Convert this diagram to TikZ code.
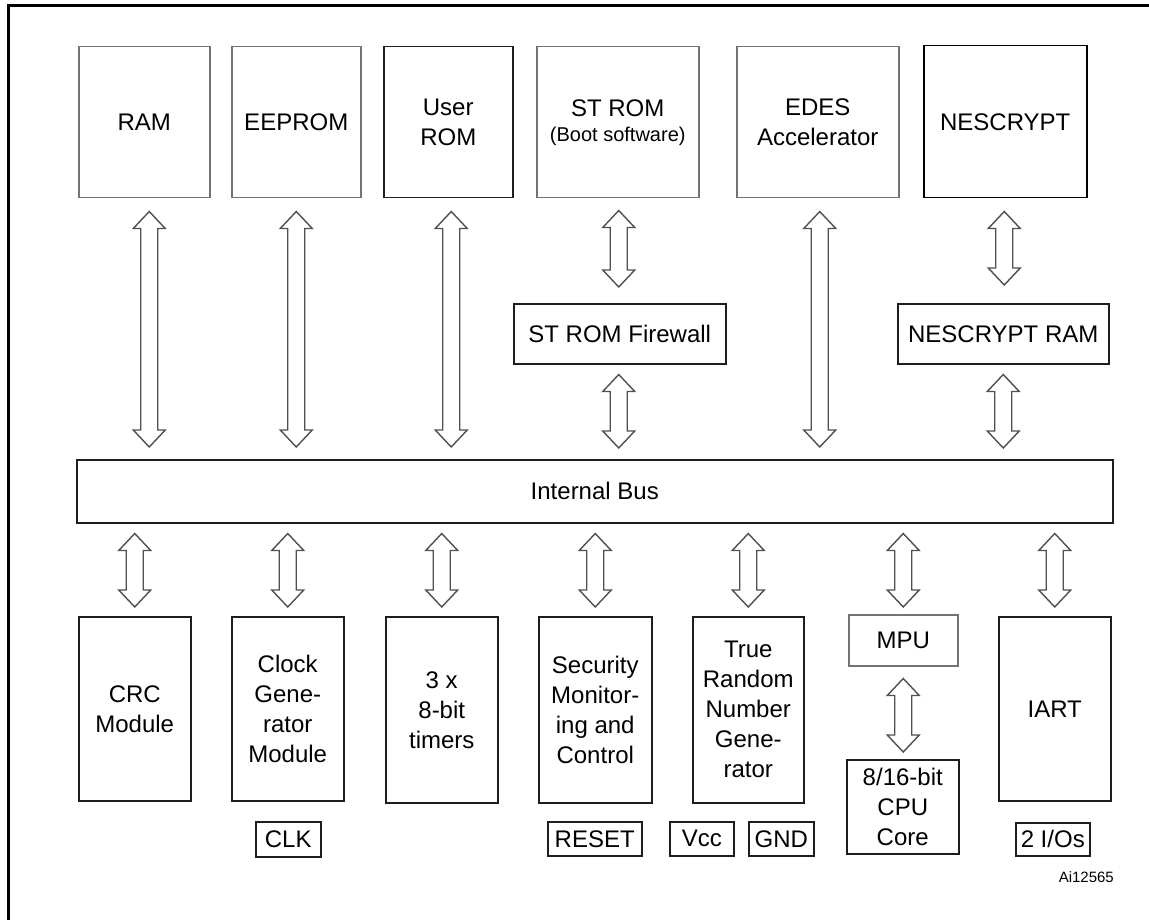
\documentclass[tikz,border=0pt]{standalone}
\usepackage{fontspec}
\setmainfont{Liberation Sans}
\usetikzlibrary{calc}
\definecolor{bgray}{RGB}{115,115,115}
\definecolor{agray}{RGB}{80,80,80}
\definecolor{kline}{RGB}{30,30,30}
\tikzset{
  blk/.style={draw=kline, line width=1.5pt, rectangle, anchor=north west, align=center, inner sep=0pt, font=\fontsize{24}{30}\selectfont},
  gblk/.style={blk, draw=bgray},
  arrstyle/.style={draw=agray, line width=1.4pt, fill=white, line join=miter},
}
\newcommand\dblarr[2]{\draw[arrstyle] let \p1=#1, \p2=#2 in (\x1,\y1) -- (\x1+16pt,\y1-17pt) -- (\x1+8.5pt,\y1-17pt) -- (\x1+8.5pt,\y2+17pt) -- (\x1+16pt,\y2+17pt) -- (\x1,\y2) -- (\x1-16pt,\y2+17pt) -- (\x1-8.5pt,\y2+17pt) -- (\x1-8.5pt,\y1-17pt) -- (\x1-16pt,\y1-17pt) -- cycle;}
\begin{document}
\begin{tikzpicture}[x=1pt,y=-1pt]
\useasboundingbox (0,0) rectangle (1149,920);
\fill[white] (0,0) rectangle (1149,920);
\draw[line width=3pt] (8,940) -- (8,5.5) -- (1170,5.5);

% top row
\node[gblk, minimum width=131pt, minimum height=151pt] (ram) at (78,46) {RAM};
\node[gblk, minimum width=129pt, minimum height=151pt] (eeprom) at (231,46) {EEPROM};
\node[blk, minimum width=129pt, minimum height=151pt] (userrom) at (383,46) {User\\ROM};
\node[gblk, minimum width=162pt, minimum height=151pt] (strom) at (536,46) {ST ROM\\[-5pt]{\fontsize{20}{24}\selectfont (Boot software)}};
\node[gblk, minimum width=162pt, minimum height=151pt] (edes) at (736,46) {EDES\\Accelerator};
\node[blk, draw=black, minimum width=163pt, minimum height=152pt] (nes) at (923,45) {NESCRYPT};

% middle
\node[blk, minimum width=212pt, minimum height=60pt] (firewall) at (513,303) {ST ROM Firewall};
\node[blk, minimum width=211pt, minimum height=60pt] (nesram) at (897,303) {NESCRYPT RAM};
\node[blk, minimum width=1036pt, minimum height=63pt] (bus) at (76,459) {Internal Bus};

% bottom row
\node[blk, minimum width=112pt, minimum height=184pt] (crc) at (78,616) {CRC\\Module};
\node[blk, minimum width=112pt, minimum height=184pt] (clock) at (231,616) {Clock\\Gene-\\rator\\Module};
\node[blk, minimum width=112pt, minimum height=186pt] (timers) at (385,616) {3 x\\8-bit\\timers};
\node[blk, minimum width=113pt, minimum height=186pt] (secu) at (538,616) {Security\\Monitor-\\ing and\\Control};
\node[blk, minimum width=111pt, minimum height=186pt] (trng) at (692,616) {True\\Random\\Number\\Gene-\\rator};
\node[gblk, minimum width=109pt, minimum height=51pt] (mpu) at (848,614) {MPU};
\node[blk, minimum width=112pt, minimum height=94pt] (cpu) at (846,759) {8/16-bit\\CPU\\Core};
\node[blk, minimum width=112pt, minimum height=184pt] (iart) at (998,616) {IART};

% pins
\node[blk, minimum width=65pt, minimum height=35pt] (clk) at (255,821) {CLK};
\node[blk, minimum width=94pt, minimum height=34pt] (reset) at (547,821) {RESET};
\node[blk, minimum width=64pt, minimum height=34pt] (vcc) at (669,821) {Vcc};
\node[blk, minimum width=65pt, minimum height=34pt] (gnd) at (748,821) {GND};
\node[blk, minimum width=74pt, minimum height=33pt] (ios) at (1015,822) {2 I/Os};

\node[anchor=base east, inner sep=0pt, font=\fontsize{15}{18}\selectfont] (code) at (1114,882) {Ai12565};

% arrows top
\dblarr{($(ram.south)+(5,13)$)}{($(ram.south |- bus.north)+(5,-12)$)}
\dblarr{($(eeprom.south)+(0,13)$)}{($(eeprom.south |- bus.north)+(0,-12)$)}
\dblarr{($(userrom.south)+(3,13)$)}{($(userrom.south |- bus.north)+(3,-12)$)}
\dblarr{($(strom.south)+(1,12)$)}{($(strom.south |- firewall.north)+(1,-16)$)}
\dblarr{($(firewall.south)+(-1,10)$)}{($(firewall.south |- bus.north)+(-1,-11)$)}
\dblarr{($(edes.south)+(2,13)$)}{($(edes.south |- bus.north)+(2,-12)$)}
\dblarr{($(nes.south)+(-1,13)$)}{($(nes.south |- nesram.north)+(-1,-18)$)}
\dblarr{($(nesram.south)+(0,10)$)}{($(nesram.south |- bus.north)+(0,-11)$)}

% arrows bottom
\foreach \b in {crc,clock,timers,secu,trng,iart}{
  \dblarr{($(\b.north |- bus.south)+(0,10)$)}{($(\b.north)+(0,-9)$)}
}
\dblarr{($(mpu.north |- bus.south)+(0,10)$)}{($(mpu.north)+(0,-7)$)}
\dblarr{($(mpu.south)+(0,12)$)}{($(mpu.south |- cpu.north)+(0,-7)$)}
\end{tikzpicture}
\end{document}
